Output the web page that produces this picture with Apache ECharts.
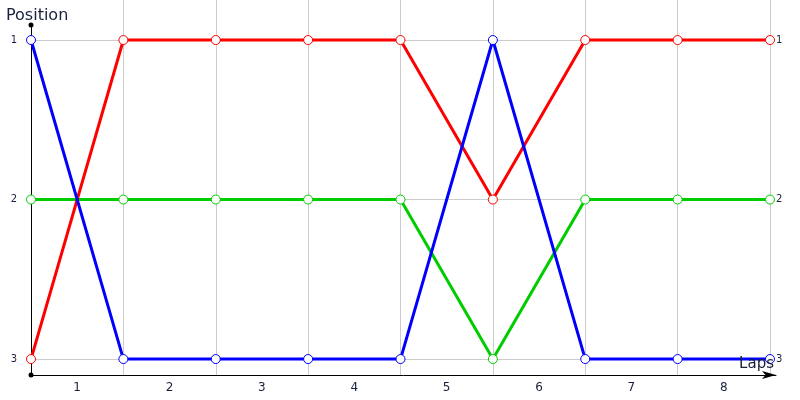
<!DOCTYPE html>
<html><head><meta charset="utf-8">
<script src="https://cdn.jsdelivr.net/npm/echarts@6/dist/echarts.min.js"></script>
<style>html,body{margin:0;padding:0;background:#fff}#c{width:800px;height:400px}</style>
</head><body><div id="c"></div>
<script>
const laps = ['1','2','3','4','5','6','7','8'];
const yTicks = [1, 2, 3];
const redPos = [3, 1, 1, 1, 1, 2, 1, 1, 1];
const greenPos = [2, 2, 2, 2, 2, 3, 2, 2, 2];
const bluePos = [1, 3, 3, 3, 3, 1, 3, 3, 3];

const toPairs = arr => arr.map((v, i) => [i, v]);
const txt = '#1a1f3c';
const font = 'DejaVu Sans';

function mk(name, data, color) {
  return {
    name, type: 'line', data: toPairs(data),
    symbol: 'circle', symbolSize: 9,
    lineStyle: { color, width: 3 },
    itemStyle: { color: '#ffffff', borderColor: color, borderWidth: 1 },
    emphasis: { disabled: true }
  };
}

const chart = echarts.init(document.getElementById('c'));
chart.setOption({
  animation: false,
  backgroundColor: '#fff',
  textStyle: { fontFamily: font },
  title: [
    { text: 'Position', left: 1, top: 3, textStyle: { fontFamily: font, fontSize: 16, fontWeight: 'normal', color: txt } },
    { text: 'Laps', right: 21, top: 352, textStyle: { fontFamily: font, fontSize: 15, fontWeight: 'normal', color: txt } }
  ],
  grid: [
    { left: 31, right: 30, top: 0, bottom: 25 },
    { left: 31, right: 24, top: 25, bottom: 25 }
  ],
  xAxis: [
    {
      type: 'value', gridIndex: 0, min: 0, max: laps.length,
      axisLine: { show: false },
      splitLine: { show: true, lineStyle: { color: '#cccccc', width: 1 } },
      axisTick: { show: false, customValues: laps.map((l, i) => i + 1) },
      axisLabel: { customValues: laps.map((l, i) => i + 0.5), formatter: v => laps[Math.round(v - 0.5)], color: txt, fontSize: 12, margin: 7, fontFamily: font }
    },
    {
      type: 'value', gridIndex: 1, min: 0, max: 1,
      axisLine: { show: true, symbol: ['none', 'arrow'], symbolSize: [6, 14], lineStyle: { color: '#000', width: 1 } },
      axisTick: { show: false }, axisLabel: { show: false }, splitLine: { show: false }
    }
  ],
  yAxis: [
    {
      type: 'value', gridIndex: 0, inverse: true, min: 0.749, max: 3.1,
      axisLine: { show: false },
      axisTick: { show: false, customValues: yTicks },
      splitLine: { show: true, lineStyle: { color: '#cccccc', width: 1 } },
      axisLabel: { customValues: yTicks, color: txt, fontSize: 10, margin: 14, fontFamily: font }
    },
    {
      type: 'value', gridIndex: 0, position: 'right', inverse: true, min: 0.749, max: 3.1,
      axisLine: { show: false },
      axisTick: { show: false, customValues: yTicks },
      splitLine: { show: false },
      axisLabel: { customValues: yTicks, color: txt, fontSize: 10, margin: 6, fontFamily: font }
    },
    {
      type: 'value', gridIndex: 1, min: 0, max: 1,
      axisLine: { show: true, symbol: ['circle', 'circle'], symbolSize: [5, 5], lineStyle: { color: '#000', width: 1 } },
      axisTick: { show: false }, axisLabel: { show: false }, splitLine: { show: false }
    }
  ],
  series: [
    mk('Green', greenPos, '#00cc00'),
    mk('Red', redPos, '#ff0000'),
    mk('Blue', bluePos, '#0000ff')
  ]
});
</script></body></html>
